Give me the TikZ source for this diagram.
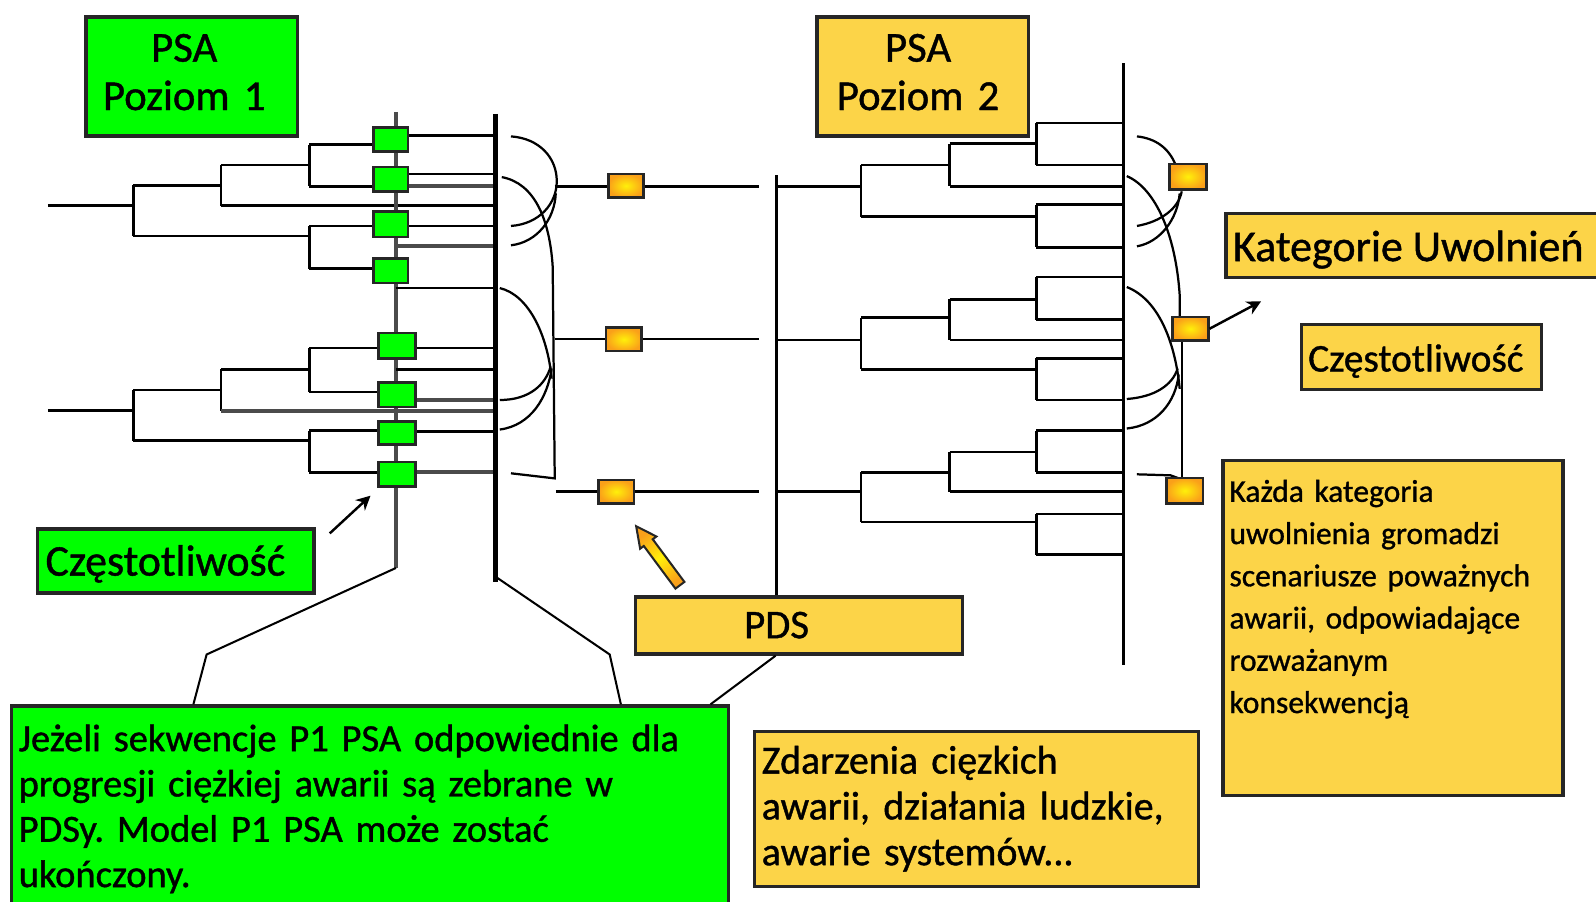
\documentclass[tikz,border=0pt]{standalone}
\usepackage{fontspec}
\setmainfont{Carlito}[FakeBold=1]
\frenchspacing
\usetikzlibrary{arrows.meta}
\definecolor{pgreen}{RGB}{0,255,0}
\definecolor{pyellow}{RGB}{252,212,72}
\definecolor{porange}{RGB}{250,160,25}
\definecolor{pinner}{RGB}{255,240,10}
\definecolor{linegrey}{RGB}{75,75,75}
\begin{document}
\begin{tikzpicture}[x=0.5pt,y=-0.5pt,
  tree/.style={line width=1.3pt},
  tgrey/.style={line width=1.8pt, draw=linegrey},
  bin/.style={line width=1.1pt},
  lead/.style={line width=1pt},
  pointer/.style={line width=1.2pt, -{Stealth[length=7pt,width=7pt]}},
  panel/.style={draw=black!85, line width=1.6pt, inner sep=0pt, anchor=north west},
  gpanel/.style={panel, fill=pgreen},
  ypanel/.style={panel, fill=pyellow},
  seqbox/.style={draw=black!85, line width=1.3pt, fill=pgreen, minimum width=17pt, minimum height=12pt, inner sep=0pt},
  catbox/.style={draw=black!85, line width=1.3pt, inner color=pinner, outer color=porange, minimum width=17.5pt, minimum height=11.5pt, inner sep=0pt},
  txt/.style={inner sep=0pt, align=left, anchor=base west},
]
\useasboundingbox (0,0) rectangle (1568,886);

% ---------- level 1 event trees ----------
% upper tree
\draw[tree] (47,202) -- (131,202);
\draw[tree] (131,182) -- (131,232);
\draw[tree] (131,182) -- (217,182);
\draw[tree] (217,162) -- (217,202);
\draw[tree] (217,162) -- (304,162);
\draw[tree] (217,202) -- (487,202);
\draw[tree] (304,142) -- (304,183);
\draw[tree] (304,142) -- (384,142);
\draw[tree] (304,183) -- (384,183);
\draw[tree] (131,232) -- (304,232);
\draw[tree] (304,222) -- (304,264);
\draw[tree] (304,222) -- (384,222);
\draw[tree] (304,264) -- (384,264);
% lower tree
\draw[tree] (47,403) -- (131,403);
\draw[tree] (131,383) -- (131,433);
\draw[tree] (131,383) -- (217,383);
\draw[tree] (217,363) -- (217,404);
\draw[tree] (217,363) -- (304,363);
\draw[tgrey] (217,404) -- (487,404);
\draw[tree] (304,342) -- (304,385);
\draw[tree] (304,342) -- (390,342);
\draw[tree] (304,385) -- (390,385);
\draw[tree] (131,433) -- (304,433);
\draw[tree] (304,423) -- (304,464);
\draw[tree] (304,423) -- (390,423);
\draw[tree] (304,464) -- (390,464);

% column of sequence end states
\draw[line width=1.8pt, draw=linegrey] (389,110) -- (389,558);

% sequence outlets to the grouping bar
\draw[tree] (384,133) -- (487,133);
\draw[tree] (384,171) -- (487,171);
\draw[tgrey] (384,183) -- (487,183);
\draw[tree] (384,222) -- (487,222);
\draw[tgrey] (389,242) -- (487,242);
\draw[tree] (389,283) -- (487,283);
\draw[tree] (390,342) -- (487,342);
\draw[tree] (389,363) -- (487,363);
\draw[tgrey] (390,393) -- (487,393);
\draw[tree] (390,424) -- (487,424);
\draw[tgrey] (390,464) -- (487,464);

% grouping bar
\draw[line width=2.6pt] (487,112) -- (487,572);

% binning of sequences into plant damage states
\draw[bin] (502,134) .. controls (530,136) and (547,155) .. (547,178)
                     .. controls (547,200) and (530,220) .. (502,222);
\draw[bin] (502,241) .. controls (528,238) and (545,215) .. (546,190);
\draw[bin] (493,174) .. controls (525,180) and (540,215) .. (543,262)
           -- (545,470) -- (502,465);
\draw[bin] (491,283) .. controls (520,290) and (538,330) .. (542,372);
\draw[bin] (491,393) .. controls (520,393) and (536,378) .. (541,360);
\draw[bin] (491,422) .. controls (522,418) and (538,390) .. (542,362);

% plant damage state lines
\draw[tree] (545,183) -- (746,183);
\draw[tree] (545,333) -- (746,333);
\draw[tree] (546,483) -- (746,483);

% ---------- level 2 event trees ----------
\draw[tree] (763,172) -- (763,585);
% upper tree
\draw[tree] (763,183) -- (846,183);
\draw[tree] (846,162) -- (846,213);
\draw[tree] (846,162) -- (933,162);
\draw[tree] (933,141) -- (933,183);
\draw[tree] (933,141) -- (1018,141);
\draw[tree] (1018,121) -- (1018,162);
\draw[tree] (1018,121) -- (1104,121);
\draw[tree] (1018,162) -- (1104,162);
\draw[tree] (933,183) -- (1104,183);
\draw[tree] (846,213) -- (1018,213);
\draw[tree] (1018,201) -- (1018,243);
\draw[tree] (1018,201) -- (1104,201);
\draw[tree] (1018,243) -- (1104,243);
% middle tree
\draw[tree] (763,334) -- (846,334);
\draw[tree] (846,312) -- (846,363);
\draw[tree] (846,312) -- (933,312);
\draw[tree] (933,294) -- (933,334);
\draw[tree] (933,294) -- (1018,294);
\draw[tree] (1018,272) -- (1018,314);
\draw[tree] (1018,272) -- (1104,272);
\draw[tree] (1018,314) -- (1104,314);
\draw[tree] (933,334) -- (1104,334);
\draw[tree] (846,363) -- (1018,363);
\draw[tree] (1018,352) -- (1018,393);
\draw[tree] (1018,352) -- (1104,352);
\draw[tree] (1018,393) -- (1104,393);
% lower tree
\draw[tree] (763,483) -- (846,483);
\draw[tree] (846,464) -- (846,513);
\draw[tree] (846,464) -- (933,464);
\draw[tree] (933,444) -- (933,483);
\draw[tree] (933,444) -- (1018,444);
\draw[tree] (1018,423) -- (1018,464);
\draw[tree] (1018,423) -- (1104,423);
\draw[tree] (1018,464) -- (1104,464);
\draw[tree] (933,483) -- (1104,483);
\draw[tree] (846,513) -- (1018,513);
\draw[tree] (1018,505) -- (1018,545);
\draw[tree] (1018,505) -- (1104,505);
\draw[tree] (1018,545) -- (1104,545);

% release bar
\draw[line width=1.5pt] (1104,62) -- (1104,653);

% binning into release categories
\draw[bin] (1117,134) .. controls (1135,136) and (1148,145) .. (1155,162);
\draw[bin] (1161,188) .. controls (1158,205) and (1140,218) .. (1117,222);
\draw[bin] (1117,242) .. controls (1140,238) and (1157,215) .. (1159,190);
\draw[bin] (1107,173) .. controls (1135,185) and (1155,230) .. (1159,290) -- (1159,312);
\draw[bin] (1161,335) -- (1161,471);
\draw[bin] (1107,282) .. controls (1140,295) and (1155,340) .. (1159,382);
\draw[bin] (1107,392) .. controls (1135,390) and (1152,378) .. (1157,362);
\draw[bin] (1107,421) .. controls (1137,418) and (1155,395) .. (1158,368);
\draw[bin] (1117,466) -- (1150,467) -- (1161,471);

% ---------- end-state markers ----------
\node[seqbox] (g1) at (384,137) {};
\node[seqbox] (g2) at (384,176) {};
\node[seqbox, minimum height=12.5pt] (g3) at (384,220.5) {};
\node[seqbox] (g4) at (384,266) {};
\node[seqbox, minimum width=18pt, minimum height=12.5pt] (g5) at (390,339.5) {};
\node[seqbox, minimum width=18pt] (g6) at (390,388) {};
\node[seqbox, minimum width=18pt, minimum height=11.5pt] (g7) at (390,425.5) {};
\node[seqbox, minimum width=18pt] (g8) at (390,466) {};

\node[catbox] (o1) at (615,182.5) {};
\node[catbox] (o2) at (613,333.5) {};
\node[catbox] (o3) at (605.5,483) {};
\node[catbox, minimum width=18pt, minimum height=12.5pt] (r1) at (1167,173.5) {};
\node[catbox] (r2) at (1169.5,323) {};
\node[catbox, minimum width=18pt, minimum height=12.5pt] (r3) at (1164,482) {};

% ---------- panels ----------
\node[gpanel, minimum width=104pt, minimum height=58.5pt] (psa1) at (83,15) {};
\node[ypanel, minimum width=104pt, minimum height=58.5pt] (psa2) at (801,15) {};
\node[ypanel, minimum width=190pt, minimum height=31.5pt] (cat) at (1203,208) {};
\node[ypanel, minimum width=118pt, minimum height=32pt] (freqR) at (1277,317) {};
\node[ypanel, minimum width=167pt, minimum height=164.5pt] (note) at (1200,451) {};
\node[ypanel, minimum width=160.5pt, minimum height=28pt] (pds) at (623,585) {};
\node[ypanel, minimum width=218pt, minimum height=76pt] (events) at (740,717) {};
\node[gpanel, minimum width=352pt, minimum height=110pt] (level1) at (10,692) {};
\node[gpanel, minimum width=136pt, minimum height=31.5pt] (freqL) at (35,518) {};

% ---------- texts ----------
\node[inner sep=0pt, anchor=base, align=center, text width=100pt,
      font=\fontsize{21pt}{23.75pt}\selectfont] (psa1t) at (181,60.6) {PSA\\Poziom 1};
\node[inner sep=0pt, anchor=base, align=center, text width=100pt,
      font=\fontsize{21pt}{23.75pt}\selectfont] (psa2t) at (902,60.6) {PSA\\Poziom 2};
\node[txt, font=\fontsize{21.6pt}{25pt}\selectfont] (catt) at (1211,256.5) {Kategorie Uwolnień};
\node[inner sep=0pt, anchor=base, font=\fontsize{19.3pt}{23pt}\selectfont] (freqRt) at (1391,365) {Częstotliwość};
\node[inner sep=0pt, anchor=base, font=\fontsize{21.5pt}{25pt}\selectfont] (freqLt) at (162.5,565.5) {Częstotliwość};
\node[inner sep=0pt, anchor=base, font=\fontsize{20pt}{24pt}\selectfont] (pdst) at (763,627) {PDS};
\node[txt, text width=160pt, font=\fontsize{15.5pt}{20.75pt}\selectfont] (notet) at (1207.5,493)
  {Każda kategoria\\uwolnienia gromadzi\\scenariusze poważnych\\awarii, odpowiadające\\rozważanym\\konsekwencją};
\node[txt, text width=215pt, font=\fontsize{19.6pt}{22.5pt}\selectfont] (eventst) at (748,760)
  {Zdarzenia cięzkich\\awarii, działania ludzkie,\\awarie systemów...};
\node[txt, text width=350pt, font=\fontsize{18.9pt}{22.25pt}\selectfont] (level1t) at (18,738)
  {Jeżeli sekwencje P1 PSA odpowiednie dla\\progresji ciężkiej awarii są zebrane w\\PDSy. Model P1 PSA może zostać\\ukończony.};

% ---------- leaders and pointers ----------
\coordinate (colfoot) at (389,558);
\coordinate (barfoot) at (486,566);
\draw[lead] (level1.north west -| 190,0) -- (203,643) -- (colfoot);
\draw[lead] (level1.north west -| 610,0) -- (599,643) -- (barfoot);
\draw[lead] (level1.north east -| 698,0) -- (pds.south west -| 762,0);

\coordinate (freqLtip) at (364,487);
\coordinate (catTip) at (1239,296);
\draw[pointer] (324,524) -- (freqLtip);
\draw[pointer] (r2.east) -- (catTip);

% fat pointer from the PDS panel to the damage states
\shade[draw=black!85, line width=1pt, top color=porange, bottom color=porange,
       middle color=pinner, shading angle=36.6]
  (672.4,571.7) -- (641.3,529.8) -- (644.9,527.1) -- (625,517)
  -- (628.9,539.1) -- (632.5,536.4) -- (663.6,578.3) -- cycle;
\end{tikzpicture}
\end{document}
